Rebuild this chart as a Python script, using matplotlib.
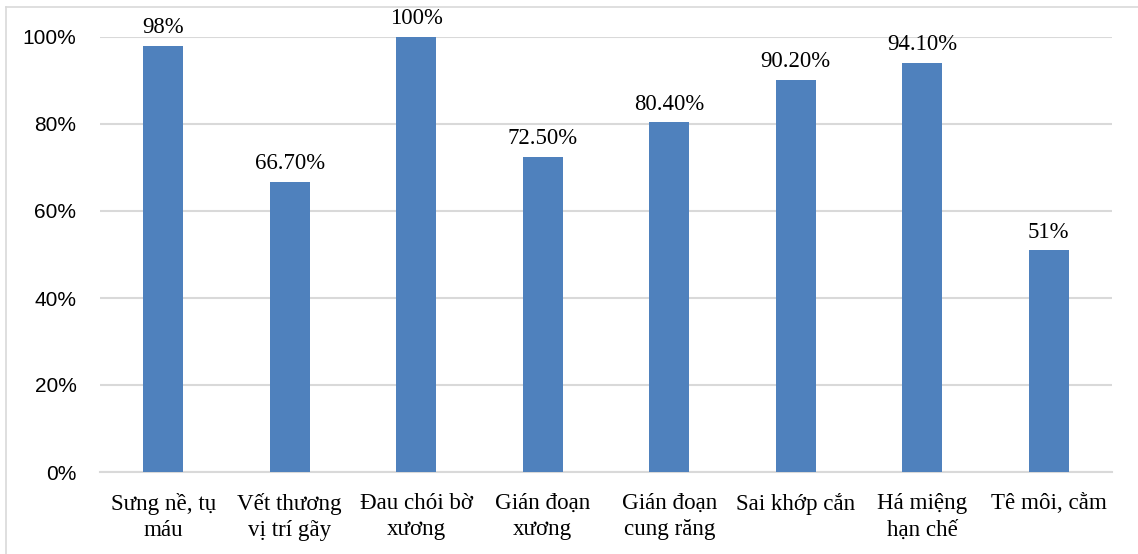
import matplotlib
matplotlib.use('Agg')
import matplotlib.pyplot as plt
import numpy as np

# Symptom categories and percentage of patients
categories = ['Sưng nề, tụ\nmáu', 'Vết thương\nvị trí gãy', 'Đau chói bờ\nxương',
              'Gián đoạn\nxương', 'Gián đoạn\ncung răng', 'Sai khớp cắn',
              'Há miệng\nhạn chế', 'Tê môi, cằm']
values = [98, 66.7, 100, 72.5, 80.4, 90.2, 94.1, 51]
value_labels = ['98%', '66.70%', '100%', '72.50%', '80.40%', '90.20%', '94.10%', '51%']
yticks = [0, 20, 40, 60, 80, 100]

bar_color = '#4F81BD'
grid_color = '#D9D9D9'
serif = 'Liberation Serif'
sans = 'Liberation Sans'

fig = plt.figure(figsize=(11.38, 5.54), dpi=100)
ax = fig.add_axes([100 / 1138, 1 - 472 / 554, 1012 / 1138, 435 / 554])

x = np.arange(len(categories))
bars = ax.bar(x, values, width=0.316, color=bar_color, zorder=3)

for xi, v, lab in zip(x, values, value_labels):
    ax.annotate(lab, xy=(xi, v), xytext=(0, 9), textcoords='offset points',
                ha='center', va='baseline', fontsize=16.4, family=serif,
                color='black', zorder=4)

ax.set_xlim(-0.5, len(categories) - 0.5)
ax.set_ylim(0, 100)
ax.set_yticks(yticks)
ax.set_yticklabels([f'{t}%' for t in yticks], fontsize=15, family=sans)
ax.set_xticks(x)
ax.set_xticklabels(categories, fontsize=16.6, family=serif, linespacing=1.35)

ax.yaxis.grid(True, color=grid_color, linewidth=1.5, zorder=0)
ax.tick_params(axis='y', length=0, pad=17)
ax.tick_params(axis='x', length=0, pad=15)
for s in ['top', 'right', 'left']:
    ax.spines[s].set_visible(False)
ax.spines['bottom'].set_color(grid_color)
ax.spines['bottom'].set_linewidth(1.5)
ax.set_axisbelow(True)

# thin frame line along the top and left of the figure
fig.add_artist(plt.Line2D([6 / 1138, 6 / 1138], [0, 1 - 7 / 554],
                          transform=fig.transFigure, color=grid_color, linewidth=1.2))
fig.add_artist(plt.Line2D([6 / 1138, 1], [1 - 7 / 554, 1 - 7 / 554],
                          transform=fig.transFigure, color=grid_color, linewidth=1.2))

fig.savefig('out.png', dpi=100)
